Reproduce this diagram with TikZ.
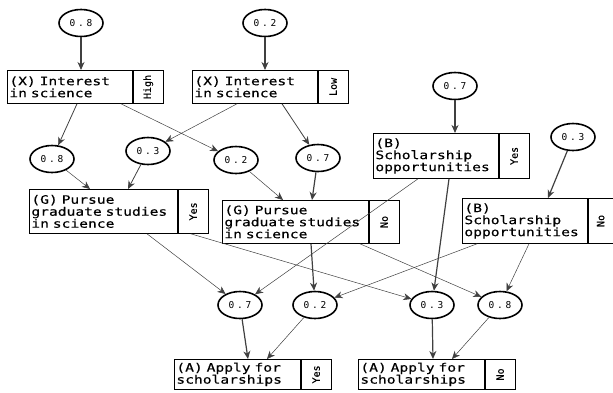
\documentclass[tikz,border=0pt]{standalone}
\usepackage{fontspec}
\usepackage{graphicx}
\usetikzlibrary{arrows.meta,calc,shapes.geometric}
\newfontfamily\boxfont[FakeStretch=1.26,FakeBold=0.3]{DejaVu Sans Mono}
\newfontfamily\tagfont[FakeBold=0.3]{DejaVu Sans Mono}
\newfontfamily\probfont[LetterSpace=30]{DejaVu Sans Mono}

\begin{document}
\begin{tikzpicture}[x=1pt,y=-1pt,
  prob/.style={draw, ellipse, line width=1.6pt, minimum width=44pt, minimum height=27pt,
    inner sep=0pt, font=\probfont\fontsize{9.5}{10}\selectfont},
  cpt/.style={draw, line width=0.8pt, anchor=north west, inner sep=2pt, align=left,
    font=\boxfont\fontsize{11.6}{12}\selectfont},
  tagbox/.style={draw, line width=0.8pt, anchor=north west, inner sep=0pt,
    font=\tagfont\fontsize{10}{11}\selectfont},
  link/.style={-{Stealth[length=8pt,width=7pt,inset=2.5pt]}, draw=black!75},
  lite/.style={link, line width=0.5pt},
  midw/.style={link, line width=0.8pt},
  heavy/.style={link, line width=1.2pt},
  divider/.style={line width=1.6pt}
]
\useasboundingbox (0,0) rectangle (613,392);

% --- probability ellipses ---
\node[prob] (p1) at (81,23) {0.8};
\node[prob] (p2) at (265,23) {0.2};
\node[prob] (pB1) at (455,86) {0.7};
\node[prob] (pB2) at (573,137) {0.3};
\node[prob] (m1) at (52,159) {0.8};
\node[prob] (m2) at (148,151) {0.3};
\node[prob] (m3) at (236,160) {0.2};
\node[prob] (m4) at (318,158) {0.7};
\node[prob] (b1) at (240,305) {0.7};
\node[prob] (b2) at (315,305) {0.2};
\node[prob] (b3) at (432,305) {0.3};
\node[prob] (b4) at (500,305) {0.8};

% --- variable boxes with state tags ---
\node[cpt, minimum width=125pt, minimum height=33pt, text width=121pt] (XH) at (7,70) {(X) Interest\\in science};
\node[tagbox, minimum width=30pt, minimum height=33pt] (XHt) at (XH.north east) {\rotatebox{90}{High}};
\node[cpt, minimum width=125pt, minimum height=33pt, text width=121pt] (XL) at (192,70) {(X) Interest\\in science};
\node[tagbox, minimum width=30pt, minimum height=33pt] (XLt) at (XL.north east) {\rotatebox{90}{Low}};

\node[cpt, minimum width=125pt, minimum height=45pt, text width=121pt] (BY) at (373,133) {(B)\\Scholarship\\opportunities};
\node[tagbox, minimum width=30pt, minimum height=45pt] (BYt) at (BY.north east) {\rotatebox{90}{Yes}};
\node[cpt, minimum width=125pt, minimum height=45pt, text width=121pt] (BN) at (462,198) {(B)\\Scholarship\\opportunities};
\node[tagbox, minimum width=25pt, minimum height=45pt] (BNt) at (BN.north east) {\rotatebox{90}{No}};

\node[cpt, minimum width=148pt, minimum height=44pt, text width=144pt] (GY) at (29,189) {(G) Pursue\\graduate studies\\in science};
\node[tagbox, minimum width=30pt, minimum height=44pt] (GYt) at (GY.north east) {\rotatebox{90}{Yes}};
\node[cpt, minimum width=146pt, minimum height=43pt, text width=142pt] (GN) at (222,200) {(G) Pursue\\graduate studies\\in science};
\node[tagbox, minimum width=30pt, minimum height=43pt] (GNt) at (GN.north east) {\rotatebox{90}{No}};

\node[cpt, minimum width=126pt, minimum height=30pt, text width=122pt] (AY) at (174,359) {(A) Apply for\\scholarships};
\node[tagbox, minimum width=30pt, minimum height=30pt] (AYt) at (AY.north east) {\rotatebox{90}{Yes}};
\node[cpt, minimum width=126pt, minimum height=30pt, text width=122pt] (AN) at (358,359) {(A) Apply for\\scholarships};
\node[tagbox, minimum width=30pt, minimum height=30pt] (ANt) at (AN.north east) {\rotatebox{90}{No}};

\foreach \b in {XH,XL,BY,BN,GY,GN,AY,AN}
  \draw[divider] (\b.north east) -- (\b.south east);

% --- connectors ---
\draw[heavy] (p1) -- (p1 |- XH.north);
\draw[heavy] (p2) -- (p2 |- XL.north);
\draw[heavy] (pB1) -- (pB1 |- BY.north);
\draw[heavy] (pB2) -- ($(BN.north west)+(86,0)$);

\draw[midw] ($(XH.south west)+(70,0)$) -- (m1);
\draw[lite] ($(XH.south west)+(114,0)$) -- (m3);
\draw[lite] ($(XL.south west)+(45,0)$) -- (m2);
\draw[midw] ($(XL.south west)+(90,0)$) -- (m4);

\draw[lite] (m1) -- ($(GY.north west)+(61,0)$);
\draw[midw] (m2) -- ($(GY.north west)+(99,0)$);
\draw[lite] (m3) -- ($(GN.north west)+(61,0)$);
\draw[heavy] (m4) -- ($(GN.north west)+(90,0)$);

\draw[lite] ($(GY.south west)+(118,0)$) -- (b1);
\draw[lite] ($(GYt.south west)+(13,0)$) -- (b3);
\draw[heavy] ($(GN.south west)+(89,0)$) -- (b2);
\draw[lite] ($(GN.south west)+(138,0)$) -- (b4);
\draw[lite] ($(BY.south west)+(45,0)$) -- (b1);
\draw[heavy] ($(BY.south west)+(76,0)$) -- (b3);
\draw[lite] ($(BN.south west)+(15,0)$) -- (b2);
\draw[lite] ($(BN.south west)+(67,0)$) -- (b4);

\draw[heavy] (b1) -- ($(AY.north west)+(74,0)$);
\draw[lite] (b2) -- ($(AY.north west)+(93,0)$);
\draw[heavy] (b3) -- ($(AN.north west)+(75,0)$);
\draw[lite] (b4) -- ($(AN.north west)+(94,0)$);
\end{tikzpicture}
\end{document}
